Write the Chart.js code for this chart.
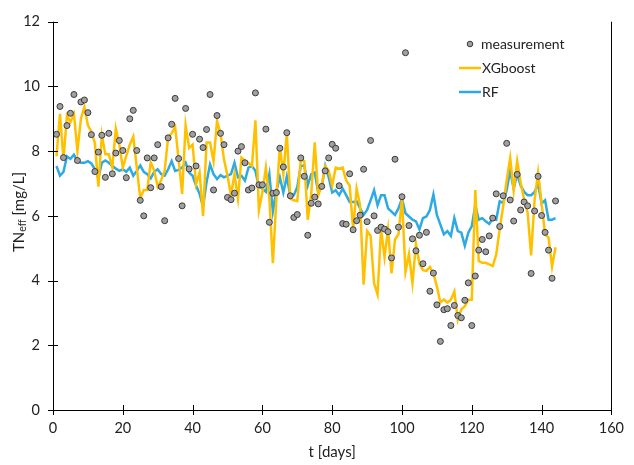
<!DOCTYPE html>
<html>
<head>
<meta charset="utf-8">
<script src="https://cdn.jsdelivr.net/npm/chart.js@4.4.1/dist/chart.umd.min.js"></script>
<style>
  html, body { margin: 0; padding: 0; background: #fff; }
  canvas { display: block; }
</style>
</head>
<body>
<canvas id="chart" width="634" height="465"></canvas>
<script>
// t [days], one sample per day
const days = Array.from({ length: 144 }, (_, i) => i + 1);

const measurement = [
  8.52, 9.38, 7.80, 8.79, 9.17, 9.75, 7.71, 9.52, 9.58, 9.19,
  8.51, 7.37, 7.97, 8.49, 7.19, 8.55, 7.30, 7.94, 8.33, 8.02,
  7.18, 9.00, 9.26, 8.02, 6.48, 6.00, 7.79, 6.87, 7.79, 8.20,
  6.90, 5.85, 8.41, 8.83, 9.63, 7.77, 6.31, 9.32, 7.45, 8.52,
  7.54, 8.37, 8.11, 8.67, 9.75, 6.80, 9.10, 8.55, 8.20, 6.57,
  6.50, 6.70, 8.00, 8.14, 7.64, 6.80, 6.86, 9.80, 6.96, 6.96,
  8.68, 5.80, 6.70, 6.72, 8.09, 7.51, 8.57, 6.62, 5.95, 6.04,
  7.79, 7.22, 5.40, 6.39, 6.58, 6.37, 6.91, 7.39, 7.79, 8.21,
  8.09, 6.93, 5.76, 5.74, 7.30, 5.57, 5.85, 6.02, 7.44, 5.82,
  8.33, 6.00, 5.55, 5.65, 5.59, 5.51, 4.70, 7.75, 5.65, 6.59,
  11.04, 5.70, 5.29, 4.92, 5.40, 4.52, 5.49, 3.67, 4.23, 3.25,
  2.12, 3.10, 3.13, 2.61, 3.23, 2.92, 2.85, 3.39, 3.93, 2.61,
  4.14, 4.94, 5.27, 4.89, 5.38, 5.93, 6.68, 5.67, 6.62, 8.24,
  6.49, 5.84, 7.28, 6.18, 6.43, 6.31, 4.22, 6.15, 7.22, 6.01,
  5.49, 4.94, 4.07, 6.46
];

const xgboost = [
  7.84, 9.15, 7.74, 9.10, 8.90, 9.15, 8.00, 9.00, 9.37, 8.80,
  8.60, 8.25, 6.90, 8.50, 7.90, 7.90, 7.50, 8.70, 8.20, 7.50,
  7.85, 8.20, 8.45, 7.50, 6.55, 6.80, 6.80, 7.65, 7.40, 6.90,
  7.10, 7.40, 8.44, 8.55, 8.75, 7.74, 6.68, 8.80, 8.10, 8.20,
  6.98, 7.34, 6.00, 8.27, 8.27, 7.69, 8.93, 8.55, 7.74, 7.24,
  6.63, 7.29, 6.53, 7.80, 7.70, 7.64, 7.54, 8.95, 6.18, 6.73,
  7.49, 6.53, 4.54, 6.50, 8.14, 7.29, 8.55, 6.53, 6.48, 6.46,
  7.74, 7.69, 5.88, 6.68, 8.27, 6.64, 6.94, 7.54, 7.39, 6.94,
  7.49, 7.46, 7.49, 7.09, 6.94, 5.58, 6.84, 6.33, 3.87, 5.53,
  5.38, 3.92, 3.57, 5.58, 4.72, 5.58, 4.22, 5.27, 5.43, 6.54,
  4.27, 4.82, 3.92, 5.13, 4.52, 4.32, 4.30, 4.42, 4.22, 3.82,
  3.32, 3.41, 3.32, 3.41, 3.66, 2.79, 3.11, 3.21, 3.41, 3.41,
  6.80, 4.60, 4.55, 4.55, 4.50, 4.45, 4.80, 5.60, 6.30, 7.10,
  7.79, 6.79, 7.69, 7.04, 6.50, 6.10, 4.78, 6.50, 7.34, 6.40,
  5.43, 5.33, 4.43, 5.03
];

const rf = [
  7.54, 7.24, 7.36, 7.84, 7.76, 7.89, 7.69, 7.64, 7.64, 7.69,
  7.62, 7.44, 7.16, 7.64, 7.71, 7.64, 7.54, 7.46, 7.39, 7.44,
  7.36, 7.49, 7.24, 7.39, 7.56, 7.36, 7.29, 7.16, 7.36, 7.44,
  7.29, 7.24, 7.44, 7.69, 7.39, 7.42, 7.49, 7.64, 7.34, 7.24,
  6.94, 6.68, 6.28, 7.04, 7.59, 7.29, 7.14, 7.26, 7.19, 7.24,
  7.29, 7.64, 7.19, 7.24, 7.09, 7.49, 7.54, 7.39, 6.89, 6.84,
  6.74, 7.29, 6.14, 6.78, 7.19, 6.72, 7.22, 6.62, 6.64, 6.89,
  7.54, 7.56, 6.94, 7.29, 7.34, 6.72, 6.89, 7.54, 7.19, 6.72,
  6.79, 6.64, 6.84, 6.64, 6.43, 6.43, 6.45, 6.23, 6.03, 6.18,
  6.48, 6.79, 6.33, 6.64, 6.64, 6.23, 6.13, 6.03, 6.23, 6.54,
  6.08, 5.98, 5.88, 5.83, 5.58, 5.93, 5.98, 6.18, 6.66, 6.03,
  5.73, 5.43, 5.53, 5.38, 5.93, 5.53, 5.48, 5.08, 5.48, 5.68,
  6.33, 5.88, 5.93, 5.83, 5.75, 5.93, 5.88, 6.45, 6.40, 6.80,
  7.39, 6.84, 7.29, 6.94, 6.74, 6.64, 6.64, 6.74, 6.99, 6.38,
  6.48, 5.88, 5.88, 5.93
];

const xTicks = [0, 20, 40, 60, 80, 100, 120, 140, 160];
const yTicks = [0, 2, 4, 6, 8, 10, 12];

const FONT = "Lato, 'Open Sans', sans-serif";
const GOLD = "#FFC000";
const BLUE = "#2DAAE1";

const toPoints = (vals) => vals.map((v, i) => ({ x: days[i], y: v }));

// frame, crossing tick marks, y title with subscript, legend
const decor = {
  id: "decor",
  afterDraw(chart) {
    const ctx = chart.ctx;
    const a = chart.chartArea;
    const xs = chart.scales.x, ys = chart.scales.y;
    ctx.save();
    ctx.strokeStyle = "#000";
    ctx.lineWidth = 1;
    ctx.beginPath();
    ctx.moveTo(Math.round(a.left) + 0.5, a.top);
    ctx.lineTo(Math.round(a.left) + 0.5, Math.round(a.bottom) + 0.5);
    ctx.lineTo(Math.round(a.right) + 0.5, Math.round(a.bottom) + 0.5);
    ctx.lineTo(Math.round(a.right) + 0.5, a.top);
    ctx.stroke();
    ctx.beginPath();
    xTicks.forEach(t => {
      const px = Math.round(xs.getPixelForValue(t)) + 0.5;
      ctx.moveTo(px, a.bottom - 5);
      ctx.lineTo(px, a.bottom + 5);
    });
    yTicks.forEach(t => {
      const py = Math.round(ys.getPixelForValue(t)) + 0.5;
      ctx.moveTo(a.left - 5, py);
      ctx.lineTo(a.left + 5, py);
    });
    ctx.stroke();

    // y axis title: TN_eff [mg/L]
    ctx.translate(19, 212);
    ctx.rotate(-Math.PI / 2);
    ctx.fillStyle = "#222";
    ctx.textBaseline = "middle";
    const big = "15px " + FONT, small = "10.5px " + FONT;
    ctx.font = big;
    const w1 = ctx.measureText("TN").width;
    const w3 = ctx.measureText(" [mg/L]").width;
    ctx.font = small;
    const w2 = ctx.measureText("eff").width;
    let x0 = -(w1 + w2 + w3) / 2;
    ctx.font = big;
    ctx.fillText("TN", x0, 0);
    ctx.font = small;
    ctx.fillText("eff", x0 + w1, 4);
    ctx.font = big;
    ctx.fillText(" [mg/L]", x0 + w1 + w2, 0);
    ctx.restore();

    // legend
    ctx.save();
    ctx.font = "14px " + FONT;
    ctx.fillStyle = "#222";
    ctx.textBaseline = "middle";
    ctx.beginPath();
    ctx.arc(470, 44, 2.8, 0, Math.PI * 2);
    ctx.fillStyle = "#a0a0a0";
    ctx.fill();
    ctx.strokeStyle = "#3a3a3a";
    ctx.lineWidth = 1;
    ctx.stroke();
    ctx.fillStyle = "#222";
    ctx.fillText("measurement", 481, 44);
    ctx.lineWidth = 2.5;
    ctx.strokeStyle = GOLD;
    ctx.beginPath(); ctx.moveTo(459, 68); ctx.lineTo(481, 68); ctx.stroke();
    ctx.fillText("XGboost", 482, 68);
    ctx.strokeStyle = BLUE;
    ctx.beginPath(); ctx.moveTo(459, 92); ctx.lineTo(481, 92); ctx.stroke();
    ctx.fillText("RF", 482, 92);
    ctx.restore();
  }
};

new Chart(document.getElementById("chart"), {
  type: "line",
  data: {
    datasets: [
      {
        label: "measurement",
        data: toPoints(measurement),
        showLine: false,
        pointRadius: 3,
        pointBackgroundColor: "#a0a0a0",
        pointBorderColor: "#3a3a3a",
        pointBorderWidth: 1
      },
      {
        label: "XGboost",
        data: toPoints(xgboost),
        borderColor: GOLD,
        borderWidth: 2.5,
        pointRadius: 0,
        tension: 0
      },
      {
        label: "RF",
        data: toPoints(rf),
        borderColor: BLUE,
        borderWidth: 2.5,
        pointRadius: 0,
        tension: 0
      }
    ]
  },
  options: {
    responsive: false,
    animation: false,
    devicePixelRatio: 1,
    layout: { padding: { top: 12, right: 11, left: 0, bottom: 0 } },
    plugins: { legend: { display: false }, tooltip: { enabled: false } },
    scales: {
      x: {
        type: "linear",
        min: 0, max: 160,
        afterBuildTicks: s => { s.ticks = xTicks.map(v => ({ value: v })); },
        afterFit: s => { s.height = 55; },
        grid: { display: false, drawTicks: false },
        border: { display: false },
        ticks: { color: "#222", font: { family: FONT, size: 14.5 }, padding: 10, maxRotation: 0 },
        title: { display: true, text: "t [days]", color: "#222", font: { family: FONT, size: 15 }, padding: { top: 2 } }
      },
      y: {
        min: 0, max: 12,
        afterBuildTicks: s => { s.ticks = yTicks.map(v => ({ value: v })); },
        afterFit: s => { s.width = 53; },
        grid: { display: false, drawTicks: false },
        border: { display: false },
        ticks: { color: "#222", font: { family: FONT, size: 14.5 }, padding: 13 }
      }
    }
  },
  plugins: [decor]
});
</script>
</body>
</html>
